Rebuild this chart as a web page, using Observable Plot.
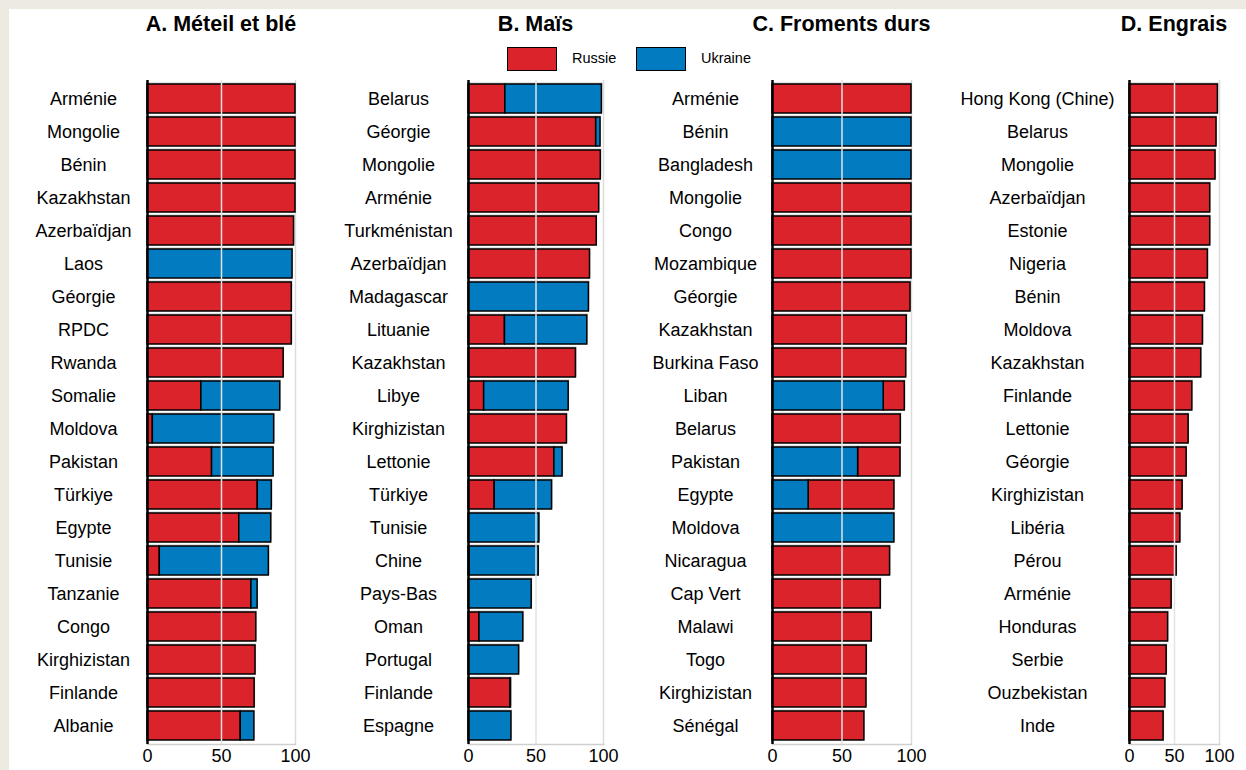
<!DOCTYPE html>
<html>
<head>
<meta charset="utf-8">
<script src="https://cdn.jsdelivr.net/npm/d3@7"></script>
<script src="https://cdn.jsdelivr.net/npm/@observablehq/plot@0.6"></script>
<style>
  html, body { margin: 0; padding: 0; }
  body { width: 1246px; height: 770px; background: #ECEAE1; position: relative; overflow: hidden;
         font-family: "Liberation Sans", Arial, sans-serif; }
  #panel { position: absolute; left: 9px; top: 9px; width: 1237px; height: 761px; background: #fff; }
  .chart { position: absolute; top: 40px; }
  .title { position: absolute; top: 12px; font-weight: bold; font-size: 21.5px; text-align: center; white-space: nowrap; transform: translateX(-50%); }
  .sw { position: absolute; top: 47px; width: 50px; height: 24px; border: 1px solid #000; box-sizing: border-box; }
  .lt { position: absolute; top: 50px; font-size: 14.5px; }
</style>
</head>
<body>
<div id="panel"></div>
<div id="root"></div>
<script>
// ---------- Data ----------
const seriesNames = ["Russie", "Ukraine"];
const titles = ["A. Méteil et blé", "B. Maïs", "C. Froments durs", "D. Engrais"];
const xTicks = [0, 50, 100];

// A. Méteil et blé
const catsA = ["Arménie","Mongolie","Bénin","Kazakhstan","Azerbaïdjan","Laos","Géorgie","RPDC","Rwanda","Somalie",
  "Moldova","Pakistan","Türkiye","Egypte","Tunisie","Tanzanie","Congo","Kirghizistan","Finlande","Albanie"];
const ruA = [100,100,100,100,99,0,97.5,97.5,92,36.4,3.6,43.6,74.5,62,8.3,70.2,73.5,73,72.4,63];
const uaA = [0,0,0,0,0,98,0,0,0,53.3,82,41.6,9.5,21.6,73.7,4.2,0,0,0,9.2];

// B. Maïs
const catsB = ["Belarus","Géorgie","Mongolie","Arménie","Turkménistan","Azerbaïdjan","Madagascar","Lituanie","Kazakhstan","Libye",
  "Kirghizistan","Lettonie","Türkiye","Tunisie","Chine","Pays-Bas","Oman","Portugal","Finlande","Espagne"];
const ruB = [27.3,94.6,98,96.8,95,90,0,27,79.6,11.6,72.9,63.6,19.4,0,0.8,0,8.1,0,31,0];
const uaB = [71.5,3.2,0,0,0,0,89.2,61,0,62.6,0,6.1,42.5,52.5,51.2,46.8,32.5,37.5,0.5,31.8];

// C. Froments durs
const catsC = ["Arménie","Bénin","Bangladesh","Mongolie","Congo","Mozambique","Géorgie","Kazakhstan","Burkina Faso","Liban",
  "Belarus","Pakistan","Egypte","Moldova","Nicaragua","Cap Vert","Malawi","Togo","Kirghizistan","Sénégal"];
const ruC = [100,0,0,100,100,100,99.3,96.6,96.2,15.2,92.3,30.5,61.7,0,84.6,77.9,71.4,67.8,67.6,66.1];
const uaC = [0,100,100,0,0,0,0,0,0,80,0,61.6,26,87.7,0,0,0,0,0,0];

// D. Engrais
const catsD = ["Hong Kong (Chine)","Belarus","Mongolie","Azerbaïdjan","Estonie","Nigeria","Bénin","Moldova","Kazakhstan","Finlande",
  "Lettonie","Géorgie","Kirghizistan","Libéria","Pérou","Arménie","Honduras","Serbie","Ouzbekistan","Inde"];
const ruD = [98.2,96.7,95.6,89.7,89.7,87.1,83.8,81.6,79.7,69.8,65.7,63.5,59,56.5,52.4,46.8,42.9,41.3,39.9,37.9];
const uaD = catsD.map(() => 0);

// ---------- Layout ----------
const colors = {Russie: "#DA232A", Ukraine: "#037BC1"};
const panels = [
  {cats: catsA, ru: ruA, ua: uaA, order: ["Russie","Ukraine"], left: 0,   ml: 147, w: 148, mr: 15, dx: -64},
  {cats: catsB, ru: ruB, ua: uaB, order: ["Russie","Ukraine"], left: 310, ml: 158, w: 135, mr: 15, dx: -70},
  {cats: catsC, ru: ruC, ua: uaC, order: ["Ukraine","Russie"], left: 618, ml: 154, w: 139, mr: 15, dx: -67},
  {cats: catsD, ru: ruD, ua: uaD, order: ["Russie","Ukraine"], left: 926, ml: 203, w: 90,  mr: 27, dx: -92}
];

const root = document.getElementById("root");

panels.forEach((p, i) => {
  const rows = [];
  p.cats.forEach((c, j) => {
    rows.push({country: c, series: "Russie", value: p.ru[j]});
    rows.push({country: c, series: "Ukraine", value: p.ua[j]});
  });
  const totals = p.cats.map((c, j) => ({country: c, total: p.ru[j] + p.ua[j]}));

  const chart = Plot.plot({
    width: p.ml + p.w + p.mr,
    height: 730,
    marginLeft: p.ml,
    marginRight: p.mr,
    marginTop: 40,
    marginBottom: 26,
    style: {fontSize: "18px", fontFamily: "Arial, 'Liberation Sans', sans-serif", color: "#000", background: "transparent", overflow: "visible"},
    x: {domain: [0, 100], ticks: xTicks, label: null},
    y: {domain: p.cats, padding: 0.12, label: null},
    color: {domain: seriesNames, range: seriesNames.map(s => colors[s])},
    marks: [
      Plot.ruleX([100], {stroke: "#dcdcdc", strokeWidth: 1.5}),
      Plot.frame({anchor: "bottom", stroke: "#cfcfcf", strokeWidth: 1.5}),
      Plot.barX(totals, {x: "total", y: "country", fill: "#c9c9c9", dx: 1, dy: -1.5}),
      Plot.barX(rows, Plot.stackX({x: "value", y: "country", fill: "series", order: p.order,
        stroke: "#000", strokeWidth: 1.5, filter: d => d.value > 0})),
      Plot.ruleX([50], {stroke: "#e3e3e3", strokeWidth: 1.5}),
      Plot.ruleX([0], {stroke: "#000", strokeWidth: 2.5}),
      Plot.axisX({ticks: xTicks, tickSize: 0, tickPadding: 5, tickFormat: d => String(d), fontSize: 18, label: null}),
      Plot.axisY({tickSize: 0, tickPadding: 0, textAnchor: "middle", dx: p.dx, fontSize: 18, label: null})
    ]
  });
  const holder = document.createElement("div");
  holder.className = "chart";
  holder.style.left = p.left + "px";
  holder.appendChild(chart);
  root.appendChild(holder);

  const t = document.createElement("div");
  t.className = "title";
  t.textContent = titles[i];
  t.style.left = (p.left + p.ml + p.w / 2) + "px";
  root.appendChild(t);
});

// Legend
const legendItems = [
  {name: seriesNames[0], sx: 507, tx: 572},
  {name: seriesNames[1], sx: 636, tx: 701}
];
legendItems.forEach(it => {
  const sw = document.createElement("div");
  sw.className = "sw";
  sw.style.left = it.sx + "px";
  sw.style.background = colors[it.name];
  root.appendChild(sw);
  const lt = document.createElement("div");
  lt.className = "lt";
  lt.style.left = it.tx + "px";
  lt.textContent = it.name;
  root.appendChild(lt);
});
</script>
</body>
</html>
